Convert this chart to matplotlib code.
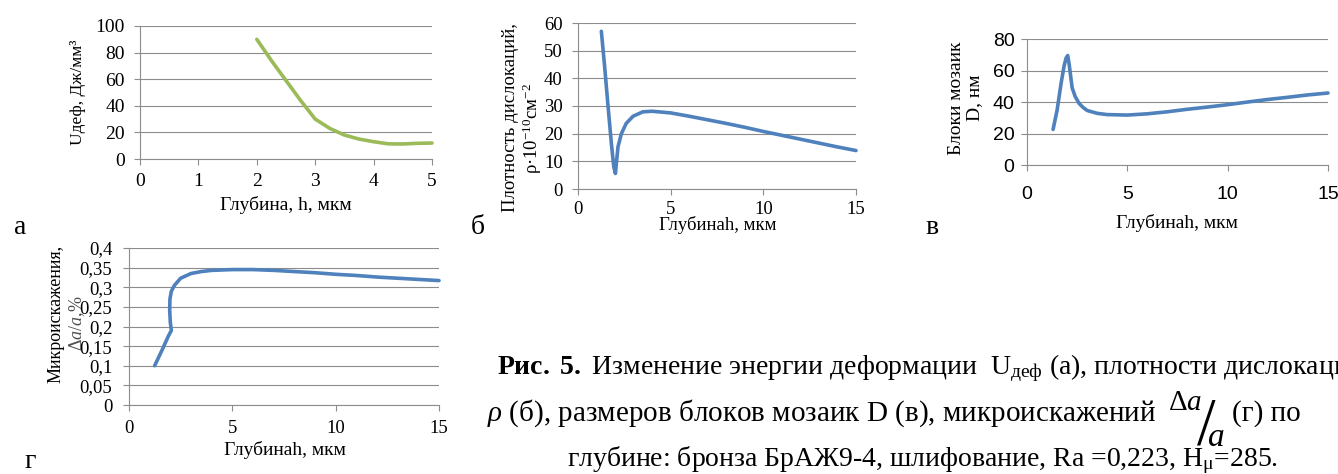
import matplotlib
matplotlib.use('Agg')
import matplotlib.pyplot as plt

# ---- data ----
# (а) deformation energy vs depth
depth_a = [2.0, 2.25, 2.5, 2.75, 3.0, 3.25, 3.5, 3.75, 4.0, 4.25, 4.5, 4.75, 5.0]
u_def = [90, 74, 59, 44, 30, 23, 18, 15, 13, 11.4, 11.3, 11.8, 12]

# (б) dislocation density vs depth
depth_b = [1.26, 1.44, 1.62, 1.8, 1.93, 2.02, 2.08, 2.16, 2.34, 2.6, 2.97, 3.5, 4, 5,
           6, 7, 8, 9, 10, 11, 12, 13, 14, 15]
rho = [57, 44, 30, 16.5, 8, 5.6, 10, 15.3, 20, 23.7, 26.3, 27.9, 28.1, 27.5,
       26.3, 25, 23.7, 22.3, 20.8, 19.4, 18, 16.6, 15.2, 13.9]

# (в) mosaic block size vs depth
depth_c = [1.3, 1.5, 1.7, 1.85, 1.95, 2.03, 2.1, 2.16, 2.25, 2.4, 2.6, 2.8, 3.0, 3.5,
           4, 5, 6, 7, 8, 9, 10, 11, 12, 13, 14, 15]
block_d = [22.6, 34.8, 52, 63, 68, 69.5, 64, 58, 49, 43.5, 39, 36.5, 34.6, 32.8,
           32, 31.7, 32.5, 33.8, 35.4, 36.8, 38.3, 40, 41.6, 43, 44.5, 45.7]

# (г) microdistortions vs depth
depth_d = [1.24, 1.6, 1.9, 2.05, 2.0, 1.97, 1.98, 2.05, 2.2, 2.5, 3, 3.5, 4, 5,
           6, 7, 8, 9, 10, 11, 12, 13, 14, 15]
micro = [0.1, 0.14, 0.175, 0.19, 0.21, 0.24, 0.27, 0.29, 0.305, 0.323, 0.335, 0.34,
         0.343, 0.345, 0.345, 0.343, 0.34, 0.337, 0.333, 0.33, 0.326, 0.323, 0.32, 0.317]

W, H = 1338, 474
GREEN = '#9bbb59'
BLUE = '#4f81bd'
GRID = '#8c8c8c'
SERIF = ['Liberation Serif', 'DejaVu Serif']
SANS = ['Liberation Sans', 'DejaVu Sans']

plt.rcParams['font.family'] = SERIF
plt.rcParams['mathtext.fontset'] = 'custom'
plt.rcParams['mathtext.rm'] = 'Liberation Serif'
plt.rcParams['mathtext.it'] = 'Liberation Serif:italic'
plt.rcParams['mathtext.bf'] = 'Liberation Serif:bold'

fig = plt.figure(figsize=(W / 100, H / 100), dpi=100)


def px(x, y):
    return x / W, 1 - y / H


def make_axes(left, top, right, bottom, xlim, ylim, xticks, yticks, fs, xpad, ypad,
              family=SERIF, yfmt=None):
    ax = fig.add_axes([left / W, 1 - bottom / H, (right - left) / W, (bottom - top) / H])
    ax.set_xlim(*xlim)
    ax.set_ylim(*ylim)
    ax.set_xticks(xticks)
    ax.set_yticks(yticks)
    if yfmt:
        ax.set_yticklabels([yfmt(v) for v in yticks])
    for s in ['top', 'right']:
        ax.spines[s].set_visible(False)
    for s in ['left', 'bottom']:
        ax.spines[s].set_color(GRID)
        ax.spines[s].set_linewidth(0.8)
    ax.grid(axis='y', color=GRID, linewidth=0.8)
    ax.set_axisbelow(True)
    ax.tick_params(direction='out', length=4, width=0.8, color=GRID, labelsize=fs)
    ax.tick_params(axis='x', pad=xpad)
    ax.tick_params(axis='y', pad=ypad)
    for lab in ax.get_xticklabels() + ax.get_yticklabels():
        lab.set_family(family)
    return ax


def label(x, y, s, fs, rot=0, **kw):
    return fig.text(*px(x, y), s, rotation=rot, ha='center', va='center', fontsize=fs,
                    family=SERIF, **kw)


# (а)
ax_a = make_axes(140, 26, 432, 159, (0, 5), (0, 100), range(0, 6), range(0, 101, 20),
                 14, 6, 7)
ax_a.plot(depth_a, u_def, color=GREEN, lw=2.6, solid_capstyle='round', clip_on=False)
label(78, 92, 'Uдеф, Дж/мм³', 12.5, 90)
label(286, 205, 'Глубина, h, мкм', 14)
label(20, 228, 'а', 20)

# (б)
ax_b = make_axes(578, 23, 856, 189, (0, 15), (0, 60), [0, 5, 10, 15], range(0, 61, 10),
                 13.5, 5, 7)
ax_b.plot(depth_b, rho, color=BLUE, lw=2.6, solid_capstyle='round', clip_on=False)
label(511, 118, 'Плотность дислокаций,', 13.5, 90)
label(532, 128, r'ρ·10$^{-10}$см$^{-2}$', 13.5, 90)
label(718, 225, 'Глубинаh, мкм', 13.5)
label(478, 228, 'б', 20)

# (в)
ax_c = make_axes(1027, 39, 1328, 165, (0, 15), (0, 80), [0, 5, 10, 15], range(0, 81, 20),
                 14, 11, 5, family=SANS)
ax_c.plot(depth_c, block_d, color=BLUE, lw=2.6, solid_capstyle='round', clip_on=False)
label(957, 98, 'Блоки мозаик', 14, 90)
label(975, 98, 'D, нм', 14, 90)
label(1177, 223, 'Глубинаh, мкм', 14)
label(932, 228, 'в', 20)

# (г)
yt_d = [0, 0.05, 0.1, 0.15, 0.2, 0.25, 0.3, 0.35, 0.4]
ax_d = make_axes(129, 248, 439, 405, (0, 15), (0, 0.4), [0, 5, 10, 15], yt_d, 13.5, 7, 8,
                 yfmt=lambda v: ('%g' % v).replace('.', ','))
ax_d.plot(depth_d, micro, color=BLUE, lw=2.6, solid_capstyle='round', clip_on=False)
label(56, 314, 'Микроискажения,', 13, 90)
label(77, 323, r'$\Delta a/a$,%', 13, 90, color='#505050')
label(285, 450, 'Глубинаh, мкм', 14)
label(30, 462, 'г', 20)

# caption
CAP = 20
cap_kw = dict(ha='left', va='baseline', family=SERIF)
fig.text(*px(497, 374), r'$\mathbf{Рис.\ 5.}$ Изменение энергии деформации  U$_{\mathrm{деф}}$'
         ' (а), плотности дислокации', fontsize=CAP, **cap_kw)
line2 = fig.text(*px(487, 421), r'$\rho$ (б), размеров блоков мозаик D (в), микроискажений',
                 fontsize=CAP + 1, **cap_kw)
fig.text(*px(567, 466), r'глубине: бронза БрАЖ9-4, шлифование, Ra =0,223, H$_{\mathrm{μ}}$=285.',
         fontsize=CAP, **cap_kw)

# the Δa/a fraction follows the end of line 2
fig.canvas.draw()
r = fig.canvas.get_renderer()
x_end = line2.get_window_extent(r).x1
num = fig.text((x_end + 12) / W, 1 - 410 / H, r'$\mathrm{\Delta}a$', fontsize=CAP + 1, **cap_kw)
num_end = num.get_window_extent(r).x1
sl = fig.text((num_end + 4) / W, 1 - 427 / H, '/', ha='center', va='center',
              fontsize=CAP + 28, family=SERIF)
den = fig.text((num_end + 4) / W, 1 - 446 / H, r'$a$', fontsize=CAP + 4, **cap_kw)
after = max(den.get_window_extent(r).x1, sl.get_window_extent(r).x1)
fig.text((after + 8) / W, 1 - 421 / H, '(г) по', fontsize=CAP + 1, **cap_kw)

fig.savefig('out.png', dpi=100)
